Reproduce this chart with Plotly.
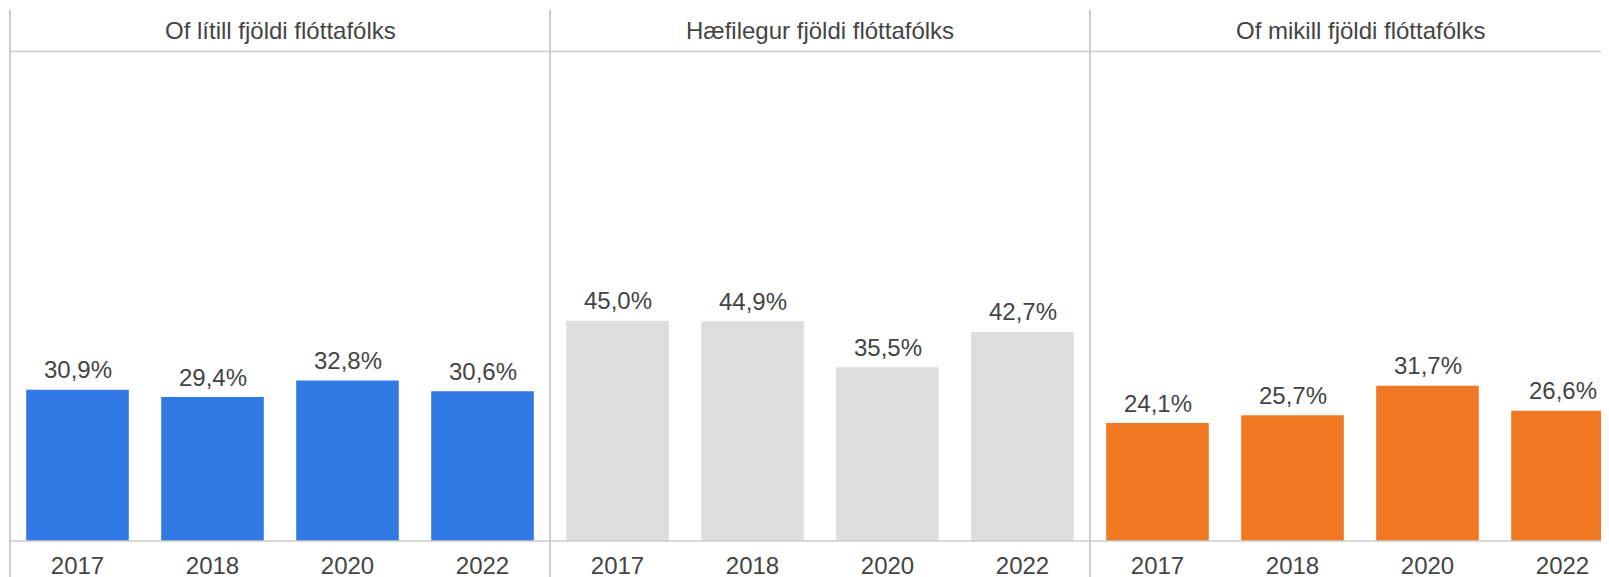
import plotly.graph_objects as go
from plotly.subplots import make_subplots

years = ["2017", "2018", "2020", "2022"]
panel_titles = ["Of lítill fjöldi flóttafólks", "Hæfilegur fjöldi flóttafólks", "Of mikill fjöldi flóttafólks"]
too_few = [30.9, 29.4, 32.8, 30.6]
suitable = [45.0, 44.9, 35.5, 42.7]
too_many = [24.1, 25.7, 31.7, 26.6]
series = [too_few, suitable, too_many]
colors = ["#3179E5", "#DDDDDD", "#F07822"]

W, H = 1609, 577
OFF = 8  # page body margin
left_px = 10 - OFF
panel_px = 540
top_line_px = 10 - OFF
header_px = 51.5 - OFF
base_px = 541 - OFF
title_px = 31 - OFF
line_color = "#CCCCCC"
text_color = "#444444"
font_family = "Liberation Sans, Arial, sans-serif"

fig = make_subplots(rows=1, cols=3, horizontal_spacing=0)

for i, (vals, col) in enumerate(zip(series, colors)):
    fig.add_trace(
        go.Bar(
            x=years, y=vals, marker=dict(color=col, line=dict(width=0)),
            width=0.76, showlegend=False, hoverinfo="skip",
        ),
        row=1, col=i + 1,
    )
    xr = "x" if i == 0 else f"x{i+1}"
    yr = "y" if i == 0 else f"y{i+1}"
    for j, v in enumerate(vals):
        fig.add_annotation(
            x=j, y=v, xref=xr, yref=yr,
            text=f"{v:.1f}%".replace(".", ","), showarrow=False,
            xanchor="center", yanchor="middle", yshift=20,
            font=dict(size=24, color=text_color, family=font_family),
        )

ydom = [(H - base_px) / H, (H - header_px) / H]
for i in range(3):
    x0 = (left_px + i * panel_px) / W
    x1 = min((left_px + (i + 1) * panel_px) / W, 1.0)
    vis_w = min(left_px + (i + 1) * panel_px, W) - (left_px + i * panel_px)
    rng_hi = -0.5 + 4 * vis_w / panel_px
    ax = "xaxis" if i == 0 else f"xaxis{i+1}"
    ay = "yaxis" if i == 0 else f"yaxis{i+1}"
    fig.layout[ax].update(
        domain=[x0, x1], range=[-0.5, rng_hi], type="category",
        showgrid=False, zeroline=False, showline=False, ticks="",
        ticklabelstandoff=8,
        tickfont=dict(size=24, color=text_color, family=font_family),
    )
    fig.layout[ay].update(
        domain=ydom, range=[0, 100], showgrid=False, zeroline=False,
        showline=False, showticklabels=False, ticks="",
    )
    fig.add_annotation(
        x=(left_px + i * panel_px + panel_px / 2) / W, y=(H - title_px) / H,
        xref="paper", yref="paper", text=panel_titles[i], showarrow=False,
        font=dict(size=24, color=text_color, family=font_family),
        xanchor="center", yanchor="middle",
    )

shapes = []
for i in range(3):
    xp = (left_px + i * panel_px) / W
    shapes.append(dict(type="line", xref="paper", yref="paper", x0=xp, x1=xp,
                       y0=0, y1=(H - top_line_px) / H,
                       line=dict(color=line_color, width=2)))
for ypx in [header_px, base_px]:
    shapes.append(dict(type="line", xref="paper", yref="paper", x0=left_px / W, x1=1,
                       y0=(H - ypx) / H, y1=(H - ypx) / H,
                       line=dict(color=line_color, width=1.5)))

fig.update_layout(
    width=W, height=H, margin=dict(l=0, r=0, t=0, b=0),
    paper_bgcolor="white", plot_bgcolor="white",
    bargap=0.24, shapes=shapes,
    font=dict(family=font_family, color=text_color),
)

fig.write_html("out.html")
